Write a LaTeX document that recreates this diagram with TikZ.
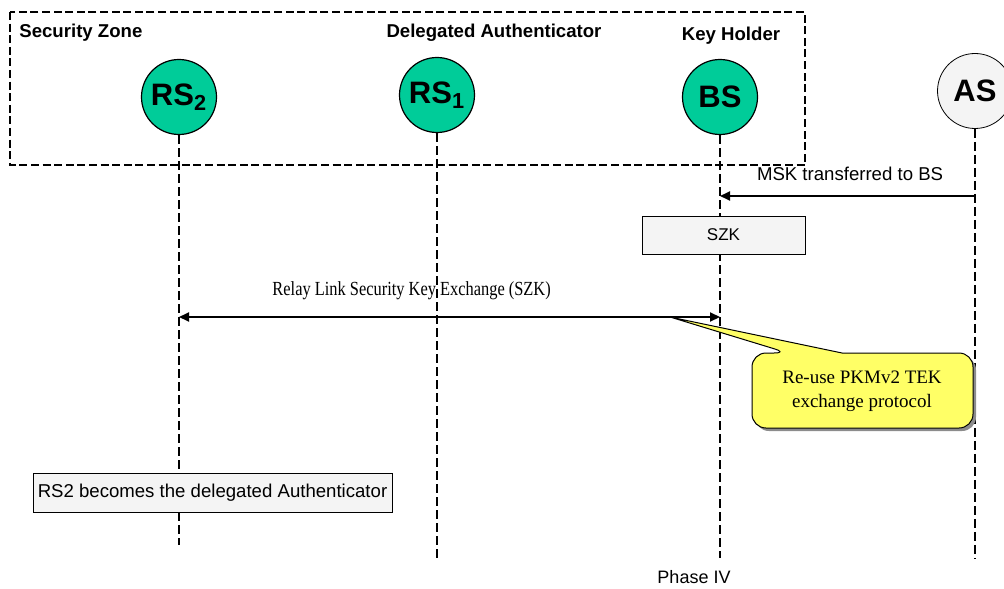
\documentclass[tikz,border=0pt]{standalone}
\usepackage{fontspec}
\setmainfont{Liberation Sans}
\newfontfamily\timesface{Liberation Serif}
\usetikzlibrary{positioning}
\usetikzlibrary{arrows.meta}
\definecolor{stationgreen}{RGB}{0,204,153}
\definecolor{servergray}{RGB}{244,244,244}
\definecolor{notegray}{RGB}{244,244,244}
\definecolor{calloutyellow}{RGB}{255,255,102}

\begin{document}
\begin{tikzpicture}[x=0.5pt, y=-0.5pt,
	station/.style={circle, draw=black, line width=0.6pt, fill=stationgreen, minimum size=37.5pt, inner sep=0pt, font=\fontsize{15.5}{18}\selectfont\bfseries},
	lifeline/.style={black, line width=1pt, dash pattern=on 4.5pt off 2pt},
	message/.style={black, line width=1pt, -{Triangle[length=5pt, width=4.5pt]}},
	notebox/.style={draw=black, line width=0.5pt, fill=notegray, inner sep=0pt, font=\fontsize{8.5}{10}\selectfont},
	heading/.style={font=\fontsize{9.3}{11}\selectfont\bfseries, inner sep=0pt}]
	\useasboundingbox (0,0) rectangle (1004,588);
	\draw[black, line width=1pt, dash pattern=on 4pt off 1.8pt] (10,12) rectangle (805,165);
	\node[heading, anchor=west] (zone) at (19,33) {Security Zone};
	\node[heading] (delegated) at (494,33) {Delegated Authenticator};
	\node[heading] (keyholder) at (731,36) {Key Holder};
	\node[station] (rs2) at (179,97) {RS\textsubscript{2}};
	\node[station] (rs1) at (437,95) {RS\textsubscript{1}};
	\node[station] (bs) at (720,97) {BS};
	\node[station, fill=servergray, line width=0.4pt] (as) at (975,91) {AS};
	\coordinate (rs2end) at (179,545);
	\coordinate (rs1end) at (437,562);
	\coordinate (bsend) at (720,558);
	\coordinate (asend) at (975,558);
	\draw[lifeline] (rs2.south) -- (rs2end);
	\draw[lifeline] (rs1.south) -- (rs1end);
	\draw[lifeline] (bs.south) -- (bsend);
	\draw[lifeline] (as.south) -- (asend);
	\coordinate (mskrow) at (0,196);
	\coordinate (szkrow) at (0,317);
	\draw[message] (as |- mskrow) -- (bs |- mskrow) node[pos=0.49, above=7pt, font=\fontsize{9.3}{11}\selectfont, inner sep=0pt] (msk) {MSK transferred to BS};
	\node[notebox, minimum width=81.5pt, minimum height=19pt] (szk) at (723.5,235) {SZK};
	\draw[message, {Triangle[length=5pt, width=4.5pt]}-{Triangle[length=5pt, width=4.5pt]}] (rs2 |- szkrow) -- (bs |- szkrow) node[pos=0.43, above=8pt, font=\timesface\fontsize{10}{12}\selectfont, inner sep=0pt] (relay) {\scalebox{0.82}[1]{Relay Link Security Key Exchange (SZK)}};
	\coordinate (pointer) at (670,317);
	\fill[black!45, rounded corners=7pt, xshift=1.5pt, yshift=-1.5pt] (752,428) -- (752,353) -- (788,353) -- (842,353) -- (973,353) -- (973,428) -- cycle;
	\draw[black, line width=0.5pt, fill=calloutyellow, rounded corners=7pt] (752,428) -- (752,353) -- (788,353) [sharp corners] -- (pointer) -- (842,353) [rounded corners=7pt] -- (973,353) -- (973,428) -- cycle;
	\node[align=center, font=\timesface\fontsize{9.5}{12}\selectfont, inner sep=0pt] (reuse) at (862,391) {Re-use PKMv2 TEK\\exchange protocol};
	\node[notebox, minimum width=179.5pt, minimum height=19.5pt, font=\fontsize{9.3}{11}\selectfont] (delegate) at (212.5,492.5) {RS2 becomes the delegated Authenticator};
	\node[font=\fontsize{9}{11}\selectfont, inner sep=0pt] (phase) at (694,577) {Phase IV};
\end{tikzpicture}
\end{document}
